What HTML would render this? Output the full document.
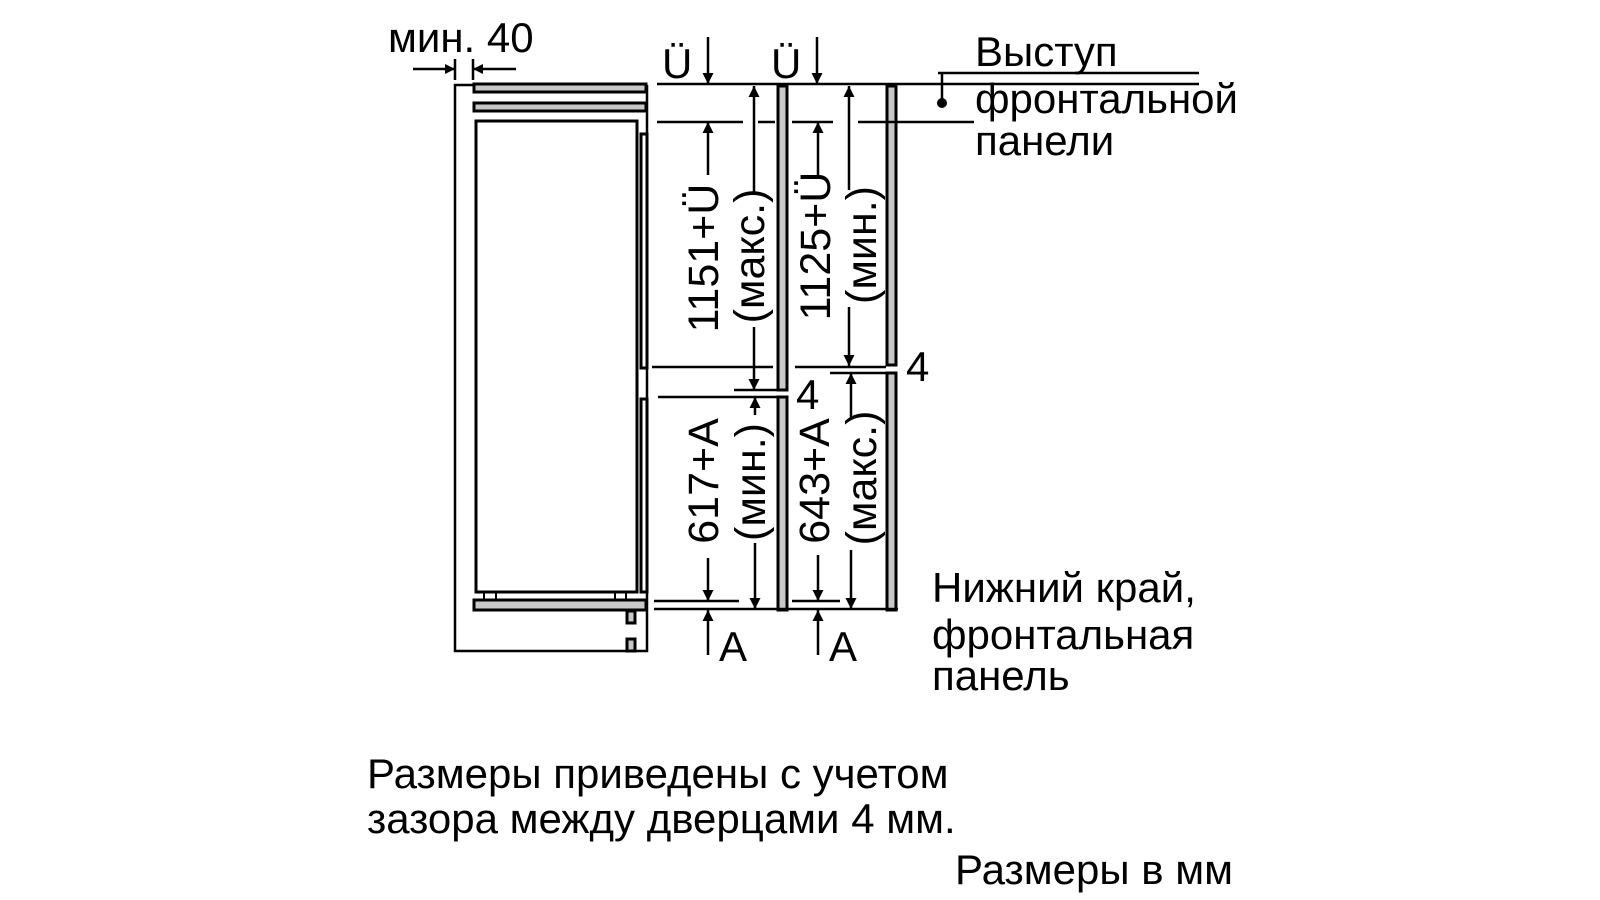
<!DOCTYPE html>
<html><head><meta charset="utf-8"><style>
html,body{margin:0;padding:0;background:#fff;width:1600px;height:900px;overflow:hidden}
text{font-family:"Liberation Sans",sans-serif;fill:#000}
</style></head><body>
<svg width="1600" height="900" viewBox="0 0 1600 900" xmlns="http://www.w3.org/2000/svg">
<defs><marker id="a" viewBox="0 0 10 10" refX="10" refY="5" markerWidth="18" markerHeight="11" markerUnits="userSpaceOnUse" orient="auto"><path d="M0,0 L10,5 L0,10 z" fill="#000"/></marker>
<marker id="b" viewBox="0 0 10 10" refX="10" refY="5" markerWidth="16" markerHeight="10" markerUnits="userSpaceOnUse" orient="auto"><path d="M0,0 L10,5 L0,10 z" fill="#000"/></marker></defs>
<g stroke="#000" fill="none">
<path d="M473,85 H455 V651 H647 V85" stroke-width="2.5"/>
<rect x="474" y="84" width="172" height="8" fill="#c8c8c8" stroke-width="3"/>
<rect x="474" y="103" width="172" height="8" fill="#c8c8c8" stroke-width="3"/>
<path d="M476,592 V121 H637 V592 Z" stroke-width="3"/>
<rect x="641" y="134" width="6" height="234" stroke-width="3"/>
<rect x="641" y="399" width="6" height="193" stroke-width="3"/>
<path d="M484,592 V600 M496,592 V600 M615,592 V600 M626,592 V600" stroke-width="2"/>
<rect x="474" y="600" width="172" height="10" fill="#c8c8c8" stroke-width="3"/>
<rect x="627" y="611" width="8" height="12" fill="#c8c8c8" stroke-width="3"/>
<rect x="627" y="639" width="8" height="12" fill="#c8c8c8" stroke-width="3"/>
<path d="M455,59 V80 M473,59 V80" stroke-width="2.5"/>
<line x1="413" y1="69" x2="455" y2="69" stroke-width="2.5" marker-end="url(#b)"/>
<line x1="516" y1="69" x2="473" y2="69" stroke-width="2.5" marker-end="url(#b)"/>
<rect x="778" y="86" width="9" height="304" fill="#c8c8c8" stroke-width="3"/>
<rect x="778" y="397" width="9" height="213" fill="#c8c8c8" stroke-width="3"/>
<rect x="887" y="86" width="9" height="279" fill="#c8c8c8" stroke-width="3"/>
<rect x="887" y="373" width="9" height="237" fill="#c8c8c8" stroke-width="3"/>
<g stroke-width="2.5">
<path d="M657,84 H1199"/>
<path d="M657,122 H743 M758,122 H775 M792,122 H833 M858,122 H974"/>
<path d="M652,367 H773 M795,367 H886 M830,373 H886 M734,390 H777 M658,397 H777"/>
<path d="M654,601 H739 M792,601 H840 M654,609 H898"/>
<path d="M942,73 V103"/>
<path d="M938,73 H1199"/>
<line x1="708" y1="37" x2="708" y2="84" marker-end="url(#a)"/>
<line x1="817" y1="37" x2="817" y2="84" marker-end="url(#a)"/>
<line x1="708" y1="175" x2="708" y2="122" marker-end="url(#a)"/>
<line x1="754" y1="192" x2="754" y2="86" marker-end="url(#a)"/>
<line x1="754" y1="327" x2="754" y2="390" marker-end="url(#a)"/>
<line x1="818" y1="175" x2="818" y2="122" marker-end="url(#a)"/>
<line x1="849" y1="190" x2="849" y2="86" marker-end="url(#a)"/>
<line x1="849" y1="307" x2="849" y2="366" marker-end="url(#a)"/>
<line x1="708" y1="558" x2="708" y2="601" marker-end="url(#a)"/>
<line x1="755" y1="415" x2="755" y2="397" marker-end="url(#a)"/>
<line x1="755" y1="543" x2="755" y2="609" marker-end="url(#a)"/>
<line x1="818" y1="555" x2="818" y2="601" marker-end="url(#a)"/>
<line x1="851" y1="418" x2="851" y2="373" marker-end="url(#a)"/>
<line x1="851" y1="550" x2="851" y2="609" marker-end="url(#a)"/>
<line x1="708" y1="655" x2="708" y2="610" marker-end="url(#a)"/>
<line x1="818" y1="655" x2="818" y2="610" marker-end="url(#a)"/>
</g>
</g>
<circle cx="942" cy="103" r="5" fill="#000"/>
<g font-size="42">
<text x="388" y="52">мин. 40</text>
<text x="662" y="78">Ü</text>
<text x="771" y="78">Ü</text>
<text x="796" y="409">4</text>
<text x="906" y="381">4</text>
<text x="719" y="661">A</text>
<text x="829" y="661">A</text>
<text x="975" y="66">Выступ</text>
<text x="975" y="113">фронтальной</text>
<text x="975" y="155">панели</text>
<text x="932" y="602">Нижний край,</text>
<text x="932" y="649">фронтальная</text>
<text x="932" y="690">панель</text>
<text x="367" y="788">Размеры приведены с учетом</text>
<text x="367" y="833">зазора между дверцами 4 мм.</text>
<text x="955" y="884">Размеры в мм</text>
</g>
<g font-size="43" text-anchor="middle" dominant-baseline="central">
<text transform="translate(704,258) rotate(-90)">1151+Ü</text>
<text transform="translate(750,256) rotate(-90)">(макс.)</text>
<text transform="translate(816,246) rotate(-90)">1125+Ü</text>
<text transform="translate(862,245) rotate(-90)">(мин.)</text>
<text transform="translate(704,481) rotate(-90)">617+A</text>
<text transform="translate(751,482) rotate(-90)">(мин.)</text>
<text transform="translate(815,481) rotate(-90)">643+A</text>
<text transform="translate(862,478) rotate(-90)">(макс.)</text>
</g>
</svg>
</body></html>
